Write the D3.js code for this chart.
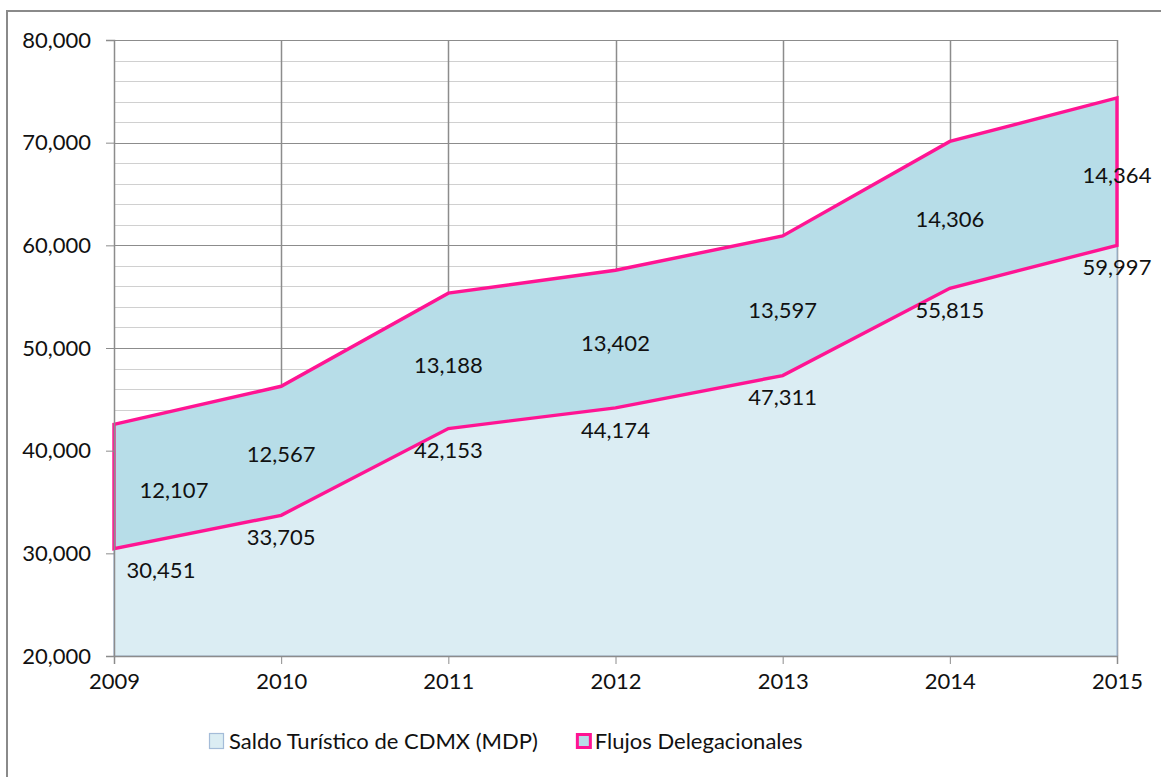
<!DOCTYPE html>
<html>
<head>
<meta charset="utf-8">
<script src="https://cdn.jsdelivr.net/npm/d3@7/dist/d3.min.js"></script>
<style>
  body { margin: 0; background: #fff; }
  text { font-family: Lato, "Open Sans", sans-serif; fill: #111; }
</style>
</head>
<body>
<div class="chart-container"></div>
<script>
var years = [2009, 2010, 2011, 2012, 2013, 2014, 2015];
var saldo = [30451, 33705, 42153, 44174, 47311, 55815, 59997];
var flujos = [12107, 12567, 13188, 13402, 13597, 14306, 14364];
var seriesNames = ['Saldo Turístico de CDMX (MDP)', 'Flujos Delegacionales'];
var yTicks = [20000, 30000, 40000, 50000, 60000, 70000, 80000];

var margin = {top: 40, right: 44, bottom: 121, left: 114},
	width = 1161 - margin.left - margin.right,
	height = 777 - margin.top - margin.bottom;

var svg = d3.select('.chart-container').append('svg')
	.attr('width', 1161)
	.attr('height', 777);

// outer frame (right/bottom edges fall outside the picture)
svg.append('rect')
	.attr('x', 7)
	.attr('y', 11)
	.attr('width', 1170)
	.attr('height', 790)
	.attr('fill', 'none')
	.attr('stroke', '#8a8a8a')
	.attr('stroke-width', 2);

var g = svg.append('g')
	.attr('transform', 'translate(' + margin.left + ',' + margin.top + ')');

var x = d3.scalePoint()
	.domain(years)
	.range([0, width]);

var y = d3.scaleLinear()
	.domain([20000, 80000])
	.range([height, 0]);

var data = years.map(function(yr, i) {
	return {year: yr, saldo: saldo[i], flujos: flujos[i]};
});

var stack = d3.stack().keys(['saldo', 'flujos']);
var layers = stack(data);

// minor gridlines every 2,000
var minor = d3.range(22000, 80000, 2000).filter(function(v) { return v % 10000 !== 0; });
g.selectAll('.minor')
	.data(minor)
	.enter().append('line')
		.attr('class', 'minor')
		.attr('x1', 0)
		.attr('x2', width)
		.attr('y1', function(d) { return Math.round(y(d)) + 0.5; })
		.attr('y2', function(d) { return Math.round(y(d)) + 0.5; })
		.attr('stroke', '#d0d0d0')
		.attr('stroke-width', 1);

// major gridlines
g.selectAll('.major')
	.data(yTicks.slice(1))
	.enter().append('line')
		.attr('class', 'major')
		.attr('x1', 0)
		.attr('x2', width)
		.attr('y1', function(d) { return Math.round(y(d)) + 0.5; })
		.attr('y2', function(d) { return Math.round(y(d)) + 0.5; })
		.attr('stroke', '#8c8c8c')
		.attr('stroke-width', 1);

// vertical gridlines
g.selectAll('.vgrid')
	.data(years.slice(1))
	.enter().append('line')
		.attr('class', 'vgrid')
		.attr('x1', function(d) { return Math.round(x(d)) + 0.5; })
		.attr('x2', function(d) { return Math.round(x(d)) + 0.5; })
		.attr('y1', 0)
		.attr('y2', height)
		.attr('stroke', '#8c8c8c')
		.attr('stroke-width', 1.5);

var area = d3.area()
	.x(function(d) { return x(d.data.year); })
	.y0(function(d) { return y(d[0]); })
	.y1(function(d) { return y(d[1]); });

var areaBase = d3.area()
	.x(function(d) { return x(d.data.year); })
	.y0(height)
	.y1(function(d) { return y(d[1]); });

g.append('path')
	.datum(layers[0])
	.attr('d', areaBase)
	.attr('fill', '#dbedf3')
	.attr('stroke', '#a4bcd8')
	.attr('stroke-width', 1.2);

g.append('path')
	.datum(layers[1])
	.attr('d', area)
	.attr('fill', '#b7dde8')
	.attr('stroke', '#ff1493')
	.attr('stroke-width', 3.4)
	.attr('stroke-linejoin', 'miter');

// axes
var xAxis = d3.axisBottom(x).tickSize(8).tickPadding(9);
var yAxis = d3.axisLeft(y).tickValues(yTicks).tickSize(8).tickPadding(15)
	.tickFormat(d3.format(','));

function customXAxis(sel) {
	sel.call(xAxis);
	sel.select('.domain').attr('stroke', '#8c8c8c').attr('stroke-width', 1.5);
	sel.selectAll('.tick line').attr('stroke', '#8c8c8c');
	sel.selectAll('.tick text').style('font-size', '22px').attr('fill', '#111');
}
function customYAxis(sel) {
	sel.call(yAxis);
	sel.select('.domain').attr('stroke', '#8c8c8c').attr('stroke-width', 1.5);
	sel.selectAll('.tick line').attr('stroke', '#8c8c8c');
	sel.selectAll('.tick text').style('font-size', '22px').attr('fill', '#111');
}

g.append('g').attr('transform', 'translate(0,' + height + ')').call(customXAxis);
g.append('g').call(customYAxis);

// data labels
var fmt = d3.format(',');
function labelX(d, halfW) {
	return Math.max(x(d.data.year), halfW + 13);
}

g.selectAll('.lbl-saldo')
	.data(layers[0])
	.enter().append('text')
		.attr('class', 'lbl-saldo')
		.attr('x', function(d) { return labelX(d, 34); })
		.attr('y', function(d) { return y(d[1]) + 22; })
		.attr('dy', '0.35em')
		.style('text-anchor', 'middle')
		.style('font-size', '22px')
		.text(function(d) { return fmt(d.data.saldo); });

g.selectAll('.lbl-flujos')
	.data(layers[1])
	.enter().append('text')
		.attr('class', 'lbl-flujos')
		.attr('x', function(d) { return labelX(d, 34) + (d.data.year === years[0] ? 13 : 0); })
		.attr('y', function(d) { return (y(d[0]) + y(d[1])) / 2 + 4; })
		.attr('dy', '0.35em')
		.style('text-anchor', 'middle')
		.style('font-size', '22px')
		.text(function(d) { return fmt(d.data.flujos); });

// legend, centred under the plot
var legend = svg.append('g').attr('class', 'legend');

var item0 = legend.append('g');
item0.append('rect')
	.attr('x', 0.5).attr('y', 0.5)
	.attr('width', 14).attr('height', 15)
	.attr('fill', '#dbedf3')
	.attr('stroke', '#a4bcd8')
	.attr('stroke-width', 1.2);
var t0 = item0.append('text')
	.attr('x', 20)
	.attr('y', 8)
	.attr('dy', '0.35em')
	.style('font-size', '22px')
	.text(seriesNames[0]);

var w0 = 20 + t0.node().getComputedTextLength();
var item1 = legend.append('g').attr('transform', 'translate(' + (w0 + 38) + ',0)');
item1.append('rect')
	.attr('x', 1.5).attr('y', 1.5)
	.attr('width', 13).attr('height', 13)
	.attr('fill', '#b7dde8')
	.attr('stroke', '#ff1493')
	.attr('stroke-width', 3);
var t1 = item1.append('text')
	.attr('x', 19)
	.attr('y', 8)
	.attr('dy', '0.35em')
	.style('font-size', '22px')
	.text(seriesNames[1]);

var totalW = w0 + 38 + 19 + t1.node().getComputedTextLength();
legend.attr('transform', 'translate(' + Math.round(506 - totalW / 2) + ',733)');
</script>
</body>
</html>
